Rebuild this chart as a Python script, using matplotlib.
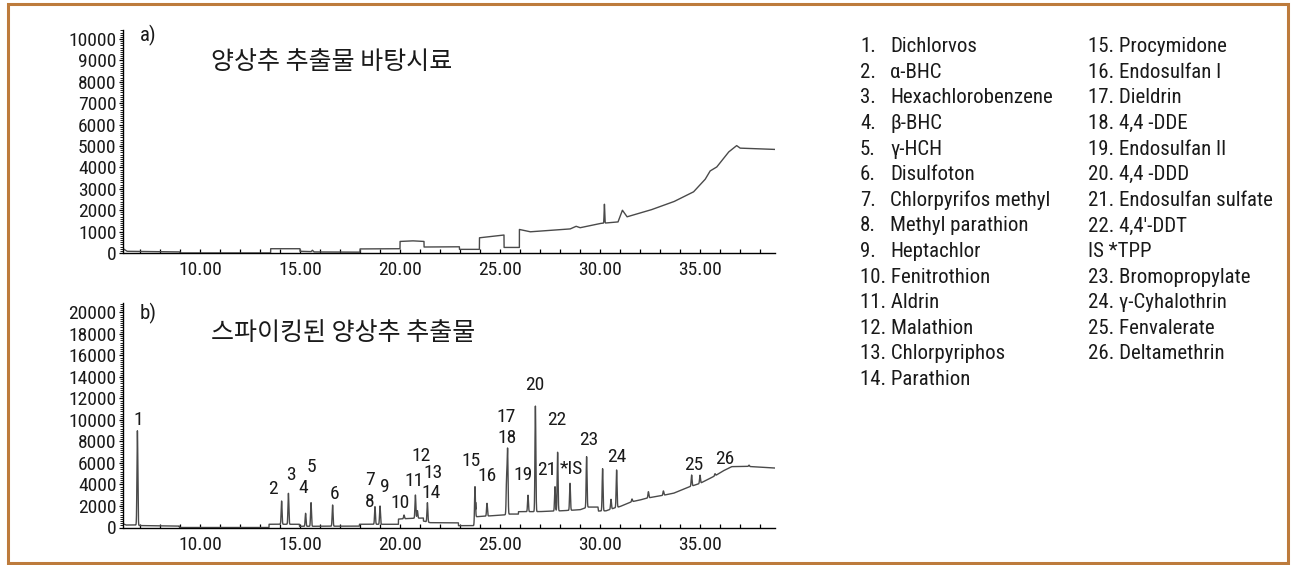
import numpy as np
import matplotlib
matplotlib.use("Agg")
import matplotlib.pyplot as plt
from matplotlib import font_manager
from matplotlib.ticker import MultipleLocator, FormatStrFormatter
from matplotlib.patches import Rectangle

# ---------------- data ----------------
# a) blank lettuce extract: baseline breakpoints (min, abundance)
blank_base_t = [6.175, 6.35, 9.0, 9.0, 13.53, 13.53, 15.0, 15.0, 15.55, 15.62, 15.7,
                18.0, 18.0, 20.0, 20.0, 20.6, 21.2, 21.2, 22.97, 22.97, 23.97, 23.97,
                25.2, 25.2, 25.97, 25.97, 26.5, 28.5, 28.8, 29.0, 30.0, 30.9, 31.12,
                31.35, 32.5, 33.67, 34.67, 35.25, 35.5, 35.83, 36.42, 36.83, 37.0, 38.75]
blank_base_v = [190, 80, 50, 0, 0, 200, 200, 80, 60, 130, 50,
                40, 190, 200, 540, 570, 540, 280, 290, 170, 170, 710,
                840, 260, 260, 1100, 990, 1120, 1250, 1180, 1380, 1450, 2000,
                1690, 2000, 2390, 2850, 3430, 3830, 4010, 4710, 5020, 4900, 4840]
blank_peak_t = [30.22]
blank_peak_v = [2280]

# b) spiked lettuce extract: baseline breakpoints
spiked_base_t = [6.175, 6.3, 6.8, 7.0, 8.5, 8.97, 8.97, 13.45, 13.45, 14.97, 14.97,
                 17.97, 17.97, 19.92, 19.92, 20.5, 21.17, 21.17, 21.5, 22.92, 22.92,
                 23.78, 23.78, 25.17, 25.5, 25.92, 25.92, 27.0, 28.0, 29.0, 29.4, 29.9,
                 29.92, 30.3, 30.7, 31.0, 31.6, 32.0, 32.4, 33.17, 33.67, 34.5, 35.0,
                 35.33, 35.75, 36.08, 36.58, 37.4, 38.75]
spiked_base_v = [325, 230, 230, 180, 150, 130, 0, 0, 300, 300, 110,
                 130, 300, 300, 780, 850, 880, 600, 450, 430, 170,
                 170, 1000, 1160, 1250, 1250, 1470, 1480, 1550, 1650, 1900, 1900,
                 1530, 1550, 1800, 1950, 2400, 2560, 2750, 3000, 3180, 3800, 4100,
                 4420, 4800, 5190, 5660, 5680, 5530]
# peak apex retention times and abundances
spiked_peak_t = [6.87, 14.08, 14.42, 15.28, 15.55, 16.63, 18.75, 19.0, 20.2, 20.77,
                 20.87, 21.37, 23.75, 24.35, 25.33, 25.38, 26.40, 26.77, 27.75, 27.88,
                 28.50, 29.33, 30.13, 30.55, 30.83, 31.6, 32.42, 33.17, 34.58, 35.0,
                 35.75, 37.45]
spiked_peak_v = [9000, 2460, 3180, 1320, 2310, 2090, 1940, 2000, 1160, 3020,
                 1560, 2310, 3800, 2250, 4420, 7120, 3000, 11300, 3800, 7000,
                 4110, 6590, 5470, 2620, 5350, 2650, 3330, 3400, 4880, 4860,
                 5000, 5800]

# peak number labels: text, retention time, abundance of text centre
peak_labels = ["1", "2", "3", "4", "5", "6", "7", "8", "9", "10", "11", "12", "13",
               "14", "15", "16", "17", "18", "19", "20", "21", "22", "*IS", "23",
               "24", "25", "26"]
label_t = [6.92, 13.67, 14.55, 15.17, 15.55, 16.75, 18.5, 18.5, 19.25, 20.0, 20.72,
           21.05, 21.63, 21.53, 23.53, 24.33, 25.33, 25.33, 26.17, 26.75, 27.33,
           27.83, 28.58, 29.42, 30.83, 34.67, 36.25]
label_v = [10000, 3550, 4880, 3650, 5660, 3120, 4420, 2400, 3800, 2250, 4330,
           6650, 5100, 3180, 6210, 4790, 10300, 8300, 4880, 13260, 5350,
           10000, 5440, 8140, 6530, 5810, 6340]

compounds_col1 = ["Dichlorvos", "α-BHC", "Hexachlorobenzene", "β-BHC", "γ-HCH",
                  "Disulfoton", "Chlorpyrifos methyl", "Methyl parathion",
                  "Heptachlor", "Fenitrothion", "Aldrin", "Malathion",
                  "Chlorpyriphos", "Parathion"]
compounds_col2 = ["15. Procymidone", "16. Endosulfan I", "17. Dieldrin",
                  "18. 4,4 -DDE", "19. Endosulfan II", "20. 4,4 -DDD",
                  "21. Endosulfan sulfate", "22. 4,4'-DDT", "IS *TPP",
                  "23. Bromopropylate", "24. γ-Cyhalothrin", "25. Fenvalerate",
                  "26. Deltamethrin"]

title_a = "양상추 추출물 바탕시료"
title_b = "스파이킹된 양상추 추출물"

# ---------------- fonts ----------------
installed = {f.name for f in font_manager.fontManager.ttflist}
if "Roboto Condensed" in installed:
    plt.rcParams["font.family"] = ["Roboto Condensed", "DejaVu Sans"]
else:
    plt.rcParams["font.family"] = ["DejaVu Sans"]
    plt.rcParams["font.stretch"] = "condensed"
KR = ["Noto Sans CJK KR", "DejaVu Sans"]

W, H = 1292, 565
fig = plt.figure(figsize=(W / 100, H / 100), dpi=100)
XMIN, XMAX = 6.175, 38.75
trace_color = "#4a4a4a"
TXT = "#1a1a1a"


def px(x, y, w, h):
    return [x / W, 1 - (y + h) / H, w / W, h / H]


def trace(base_t, base_v, peak_t, peak_v, sigma=0.022):
    t = np.arange(XMIN, XMAX, 0.002)
    base = np.interp(t, base_t, base_v)
    y = base.copy()
    for pt, pv in zip(peak_t, peak_v):
        h = pv - np.interp(pt, base_t, base_v)
        y += h * np.exp(-0.5 * ((t - pt) / sigma) ** 2)
    return t, y


FS = 14


def style_axes(ax, ymax, ymajor, yminor):
    ax.set_xlim(XMIN, XMAX)
    ax.set_ylim(0, ymax)
    for s in ("top", "right"):
        ax.spines[s].set_visible(False)
    for s in ("left", "bottom"):
        ax.spines[s].set_linewidth(1.0)
    ax.xaxis.set_major_locator(MultipleLocator(5))
    ax.xaxis.set_minor_locator(MultipleLocator(1))
    ax.xaxis.set_major_formatter(FormatStrFormatter("%.2f"))
    ax.yaxis.set_major_locator(MultipleLocator(ymajor))
    ax.yaxis.set_minor_locator(MultipleLocator(yminor))
    ax.yaxis.set_major_formatter(FormatStrFormatter("%d"))
    ax.tick_params(axis="x", which="both", direction="in", length=3, width=0.9,
                   labelsize=FS, pad=6, labelcolor=TXT)
    ax.tick_params(axis="y", which="major", direction="out", length=3, width=0.9,
                   labelsize=FS, pad=2, labelcolor=TXT)
    ax.tick_params(axis="y", which="minor", direction="out", length=2.2, width=0.6)
    ax.patch.set_alpha(0)


# a) blank
ax1 = fig.add_axes(px(123.5, 30, 651.5, 223))
t, y = trace(blank_base_t, blank_base_v, blank_peak_t, blank_peak_v, sigma=0.015)
ax1.plot(t, y, color=trace_color, lw=1.0)
style_axes(ax1, 10420, 1000, 100)

# b) spiked
ax2 = fig.add_axes(px(123.5, 303.3, 651.5, 224.2))
t, y = trace(spiked_base_t, spiked_base_v, spiked_peak_t, spiked_peak_v)
ax2.plot(t, y, color=trace_color, lw=1.0)
style_axes(ax2, 20850, 2000, 200)
for lab, lt, lv in zip(peak_labels, label_t, label_v):
    ax2.text(lt, lv, lab, ha="center", va="center", fontsize=FS, color=TXT)

# panel letters and titles
fig.text(140 / W, 1 - 35 / H, "a)", fontsize=15, ha="left", va="center", color=TXT)
fig.text(140 / W, 1 - 313 / H, "b)", fontsize=15, ha="left", va="center", color=TXT)
fig.text(211 / W, 1 - 62 / H, title_a, family=KR, fontsize=18, ha="left",
         va="center", color=TXT)
fig.text(211 / W, 1 - 333 / H, title_b, family=KR, fontsize=18, ha="left",
         va="center", color=TXT)

# compound list
row0, dy = 46.7, 25.6
LS = 15
for i, name in enumerate(compounds_col1):
    yy = 1 - (row0 + i * dy) / H
    if i < 9:
        fig.text(860 / W, yy, f"{i + 1}.", fontsize=LS, ha="left", va="center", color=TXT)
        fig.text(890 / W, yy, name, fontsize=LS, ha="left", va="center", color=TXT)
    else:
        fig.text(860 / W, yy, f"{i + 1}. {name}", fontsize=LS, ha="left", va="center",
                 color=TXT)
for i, name in enumerate(compounds_col2):
    yy = 1 - (row0 + i * dy) / H
    fig.text(1088 / W, yy, name, fontsize=LS, ha="left", va="center", color=TXT)

# frame around the figure
fig.patches.append(Rectangle((8 / W, 1 - 563 / H), 1280 / W, 559 / H,
                             transform=fig.transFigure, fill=False,
                             edgecolor="#bd7b3c", linewidth=2.2))

fig.savefig("out.png", dpi=100)
